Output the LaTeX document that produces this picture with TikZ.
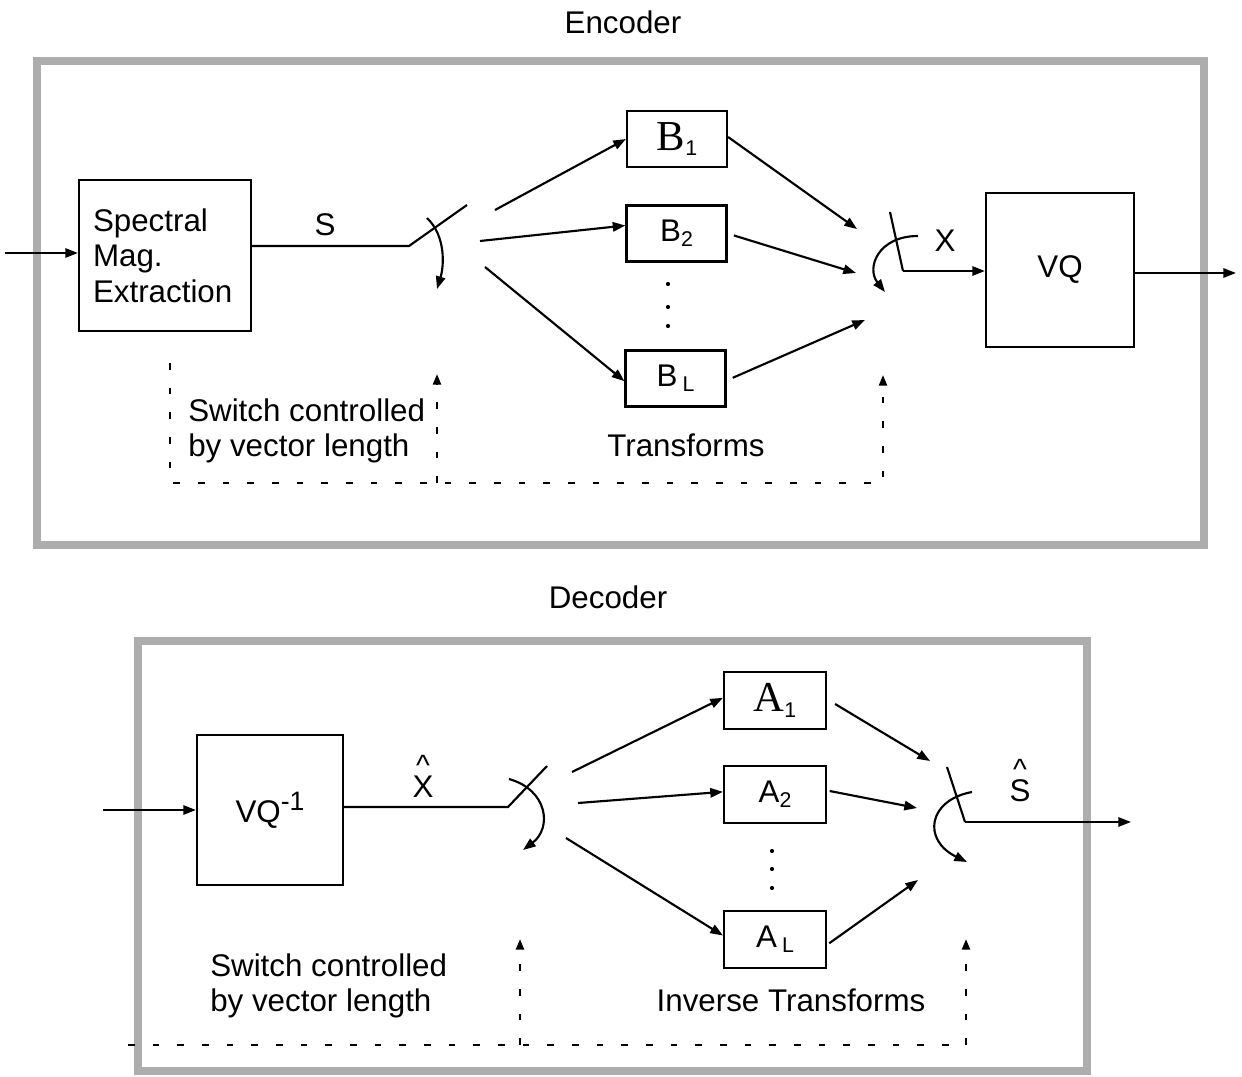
\documentclass[tikz,border=0pt]{standalone}
\usepackage{fontspec}
\setmainfont{Liberation Sans}
\newfontfamily\romanfont{Liberation Serif}
\usetikzlibrary{arrows.meta,calc}
\newcommand{\txtsize}{\fontsize{23.5}{26.5}\selectfont}
\newcommand{\subsz}[1]{\raisebox{-4pt}{\fontsize{16}{16}\selectfont #1}}
\tikzset{
  lbl/.style={font=\txtsize, inner sep=0pt},
  hatmark/.style={font=\fontsize{22}{22}\selectfont, inner sep=0pt},
  blk/.style={draw, line width=1.6pt, inner sep=0pt, font=\txtsize},
  tbox/.style={blk, minimum width=75pt, minimum height=42pt},
  wire/.style={line width=1.6pt},
  sig/.style={wire, -{Triangle[length=9.5pt,width=7pt]}},
  ctl/.style={line width=1.7pt, dash pattern=on 5pt off 13.5pt, -{Triangle[length=8pt,width=6pt]}},
  ctlplain/.style={line width=1.7pt, dash pattern=on 5pt off 13.5pt},
  frame/.style={draw=black!32, line width=6.5pt},
  dotmark/.style={circle, fill, inner sep=1.1pt},
}
\begin{document}
\begin{tikzpicture}[x=0.75pt, y=-0.75pt]
\useasboundingbox (0,0) rectangle (1242,1077);

% ---------------- Encoder ----------------
\node[lbl] (enctitle) at (623,22) {Encoder};
\draw[frame] (37,61) rectangle (1204,545);

\node[blk, minimum width=129pt, minimum height=113.25pt, text width=108pt, align=left]
  (sme) at (165,255.5) {Spectral\\Mag.\\Extraction};
\coordinate (ein) at (5,253);
\draw[sig] (ein) -- (ein -| sme.west);

% input switch
\coordinate (esw) at (409,246);
\coordinate (eblade) at (467,205);
\node[lbl] (slabel) at (325,225) {S};
\draw[wire] (sme.east |- esw) -- (esw) -- (eblade);
\coordinate (ecurlA) at (427,218);
\coordinate (ecurlB) at (437,289);
\draw[sig] (ecurlA) .. controls (446,236) and (444,266) .. (ecurlB);

% transforms
\node[tbox] (B1) at (677,139) {{\romanfont\fontsize{32}{32}\selectfont B}\subsz{1}};
\node[tbox] (B2) at (676.5,233.5) {B\subsz{2}};
\node[tbox] (BL) at (675.5,378.5) {B\,\subsz{L}};
\foreach \yy [count=\i] in {284,307,326} \node[dotmark] (edot\i) at (668,\yy) {};
\node[lbl] (trlabel) at (686,445) {Transforms};

\coordinate (eo1) at (495,210);
\coordinate (eo2) at (480,241);
\coordinate (eo3) at (485,267);
\draw[sig] (eo1) -- (B1.west);
\draw[sig] (eo2) -- ([yshift=6pt]B2.west);
\draw[sig] (eo3) -- ([yshift=-2pt]BL.west);

% output switch
\coordinate (ei1) at (857,229);
\coordinate (ei2) at (856,273);
\coordinate (ei3) at (865,320);
\draw[sig] ([yshift=1.5pt]B1.east) -- (ei1);
\draw[sig, shorten <=5pt] (B2.east) -- (ei2);
\draw[sig, shorten <=5pt] ([yshift=-1.5pt]BL.east) -- (ei3);

\node[blk, minimum width=111pt, minimum height=115.5pt] (vq) at (1060,270) {VQ};
\coordinate (eswb) at (903,271);
\coordinate (ebladeB) at (890,212);
\draw[wire] (ebladeB) -- (eswb);
\draw[sig] (eswb) -- (eswb -| vq.west);
\node[lbl] (xlabel) at (945,241) {X};
\coordinate (ecurlC) at (918,236);
\coordinate (ecurlD) at (885,292);
\draw[sig] (ecurlC) .. controls (878,236) and (866,268) .. (ecurlD);
\coordinate (eout) at (1236,273);
\draw[sig] (vq.east |- eout) -- (eout);

% control by vector length
\coordinate (ec0) at (170,363);
\coordinate (ec1) at (170,483);
\coordinate (ec2) at (883,483);
\coordinate (ec3) at (883,375);
\coordinate (ec4) at (437,483);
\coordinate (ec5) at (437,374);
\draw[ctl] (ec0) -- (ec1) -- (ec2) -- (ec3);
\draw[ctl] (ec4) -- (ec5);
\node[lbl, align=left, anchor=west] (ectl) at (188,431)
  {Switch controlled\\by vector length};

% ---------------- Decoder ----------------
\node[lbl] (dectitle) at (608,597) {Decoder};
\draw[frame] (138,641) rectangle (1087,1071);

\node[blk, minimum width=109.5pt, minimum height=112.5pt] (ivq) at (270,810)
  {VQ\raisebox{9pt}{\fontsize{20}{20}\selectfont -1}};
\coordinate (din) at (103,810);
\draw[sig] (din) -- (ivq.west);

% input switch
\coordinate (dsw) at (508,807);
\coordinate (dblade) at (547,766);
\draw[wire] (ivq.east |- dsw) -- (dsw) -- (dblade);
\node[lbl] (xhat) at (423,787) {X};
\node[hatmark, anchor=south] (xhatmark) at (xhat.north) {\char"5E};
\coordinate (dcurlA) at (509,779);
\coordinate (dcurlB) at (523,850);
\draw[sig] (dcurlA) .. controls (548,790) and (552,828) .. (dcurlB);

% inverse transforms
\node[tbox, minimum width=76.5pt, minimum height=42.75pt] (A1) at (775,700.5)
  {{\romanfont\fontsize{32}{32}\selectfont A}\subsz{1}};
\node[tbox, minimum width=76.5pt, minimum height=42.75pt] (A2) at (775,794.5) {A\subsz{2}};
\node[tbox, minimum width=76.5pt, minimum height=42.75pt] (AL) at (775,939.5) {A\,\subsz{L}};
\foreach \yy [count=\i] in {851,869,888} \node[dotmark] (ddot\i) at (772,\yy) {};
\node[lbl] (itrlabel) at (791,1000) {Inverse Transforms};

\coordinate (do1) at (572,772);
\coordinate (do2) at (578,803);
\coordinate (do3) at (566,838);
\draw[sig] (do1) -- ([yshift=2pt]A1.west);
\draw[sig] (do2) -- ([yshift=2pt]A2.west);
\draw[sig] (do3) -- ([yshift=3pt]AL.west);

% output switch
\coordinate (di1) at (930,761);
\coordinate (di2) at (917,808);
\coordinate (di3) at (918,880);
\draw[sig, shorten <=7pt] ([yshift=1pt]A1.east) -- (di1);
\draw[sig, shorten <=2pt] ([yshift=3pt]A2.east) -- (di2);
\draw[sig, shorten <=2pt] ([yshift=-4pt]AL.east) -- (di3);

\coordinate (dswb) at (965,822);
\coordinate (dbladeB) at (947,767);
\draw[wire] (dbladeB) -- (dswb);
\coordinate (dout) at (1131,822);
\draw[sig] (dswb) -- (dout);
\node[lbl] (shat) at (1020,791) {S};
\node[hatmark, anchor=south] (shatmark) at (shat.north) {\char"5E};
\coordinate (dcurlC) at (972,792);
\coordinate (dcurlD) at (967,862);
\draw[sig] (dcurlC) .. controls (928,800) and (922,840) .. (dcurlD);

% control by vector length
\coordinate (dc0) at (128,1045);
\coordinate (dc1) at (966,1045);
\coordinate (dc2) at (966,939);
\coordinate (dc3) at (520,1045);
\coordinate (dc4) at (520,939);
\draw[ctlplain] (dc0) -- (dc1);
\draw[ctl] (dc1) -- (dc2);
\draw[ctl] (dc3) -- (dc4);
\node[lbl, align=left, anchor=west] (dctl) at (210,986)
  {Switch controlled\\by vector length};
\end{tikzpicture}
\end{document}
